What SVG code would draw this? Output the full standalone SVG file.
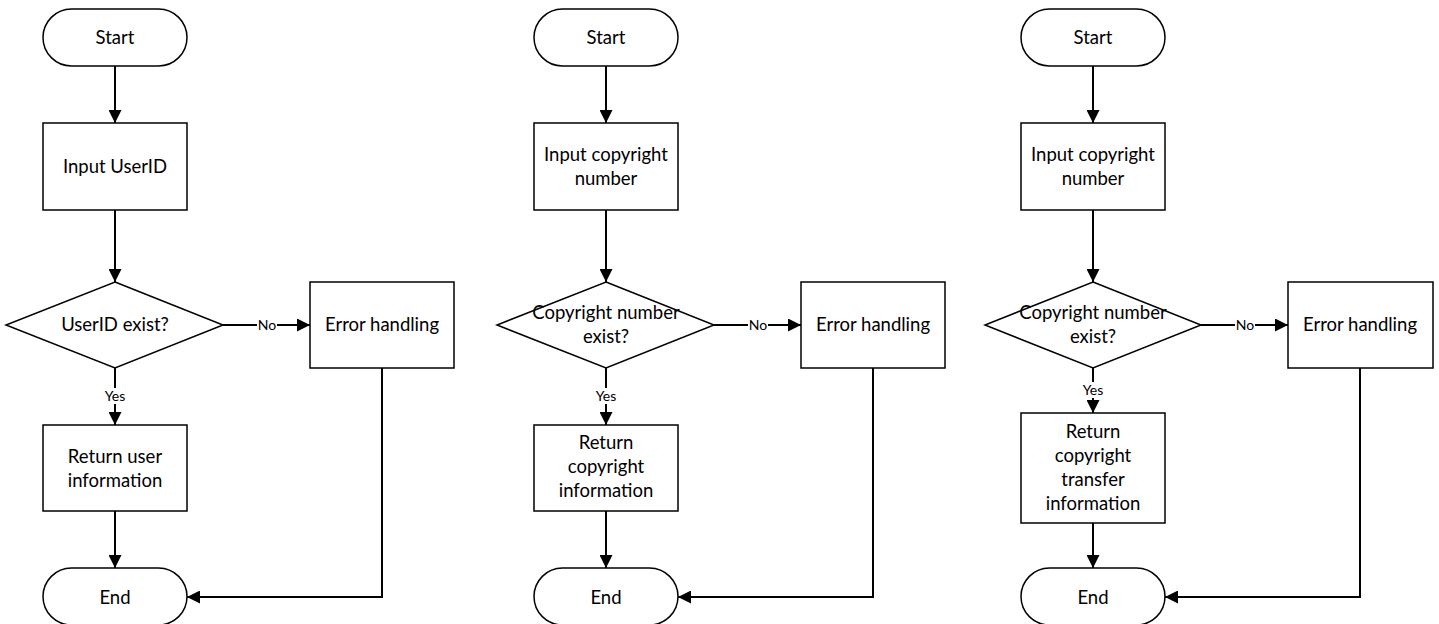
<svg xmlns="http://www.w3.org/2000/svg" width="1439" height="624" viewBox="0 0 1439 624">
  <style>
    .shape { fill: #ffffff; stroke: #000000; stroke-width: 1.5; }
    .conn { fill: none; stroke: #000000; stroke-width: 2; }
    .label { font-family: Lato, "Open Sans", sans-serif; font-size: 18.5px; fill: #000000; text-anchor: middle; }
    .edge-label { font-family: Lato, "Open Sans", sans-serif; font-size: 14px; fill: #000000; text-anchor: middle; }
    .edge-bg { fill: #ffffff; stroke: none; }
  </style>
  <defs>
    <marker id="arrow" markerUnits="userSpaceOnUse" markerWidth="13" markerHeight="13" refX="13" refY="6.5" orient="auto">
      <path d="M0,0 L13,6.5 L0,13 z" fill="#000000"/>
    </marker>
  </defs>

  <!-- ===== Flow 1: user lookup ===== -->
  <g id="f1-start">
    <rect class="shape" x="43" y="9" width="144" height="57" rx="28.5" ry="28.5"/>
    <text class="label" x="115" y="43.5">Start</text>
  </g>
  <g id="f1-input">
    <rect class="shape" x="43" y="123" width="144" height="87"/>
    <text class="label" x="115" y="173">Input UserID</text>
  </g>
  <g id="f1-check">
    <polygon class="shape" points="115,282 223,325 115,368 6,325"/>
    <text class="label" x="115" y="330.5">UserID exist?</text>
  </g>
  <g id="f1-error">
    <rect class="shape" x="310" y="282" width="144" height="86"/>
    <text class="label" x="382" y="330.5">Error handling</text>
  </g>
  <g id="f1-return">
    <rect class="shape" x="43" y="425" width="144" height="86"/>
    <text class="label" x="115" y="463">Return user</text>
    <text class="label" x="115" y="487">information</text>
  </g>
  <g id="f1-end">
    <rect class="shape" x="43" y="568" width="144" height="57" rx="28.5" ry="28.5"/>
    <text class="label" x="115" y="603.5">End</text>
  </g>

  <!-- ===== Flow 2: copyright lookup ===== -->
  <g id="f2-start">
    <rect class="shape" x="534" y="9" width="144" height="57" rx="28.5" ry="28.5"/>
    <text class="label" x="606" y="43.5">Start</text>
  </g>
  <g id="f2-input">
    <rect class="shape" x="534" y="123" width="144" height="87"/>
    <text class="label" x="606" y="161">Input copyright</text>
    <text class="label" x="606" y="185">number</text>
  </g>
  <g id="f2-check">
    <polygon class="shape" points="606,282 714,325 606,368 497,325"/>
    <text class="label" x="606" y="319">Copyright number</text>
    <text class="label" x="606" y="343">exist?</text>
  </g>
  <g id="f2-error">
    <rect class="shape" x="801" y="282" width="144" height="86"/>
    <text class="label" x="873" y="330.5">Error handling</text>
  </g>
  <g id="f2-return">
    <rect class="shape" x="534" y="425" width="144" height="86"/>
    <text class="label" x="606" y="449">Return</text>
    <text class="label" x="606" y="473">copyright</text>
    <text class="label" x="606" y="497">information</text>
  </g>
  <g id="f2-end">
    <rect class="shape" x="534" y="568" width="144" height="57" rx="28.5" ry="28.5"/>
    <text class="label" x="606" y="603.5">End</text>
  </g>

  <!-- ===== Flow 3: copyright transfer lookup ===== -->
  <g id="f3-start">
    <rect class="shape" x="1021" y="9" width="144" height="57" rx="28.5" ry="28.5"/>
    <text class="label" x="1093" y="43.5">Start</text>
  </g>
  <g id="f3-input">
    <rect class="shape" x="1021" y="123" width="144" height="87"/>
    <text class="label" x="1093" y="161">Input copyright</text>
    <text class="label" x="1093" y="185">number</text>
  </g>
  <g id="f3-check">
    <polygon class="shape" points="1093,282 1201,325 1093,368 985,325"/>
    <text class="label" x="1093" y="319">Copyright number</text>
    <text class="label" x="1093" y="343">exist?</text>
  </g>
  <g id="f3-error">
    <rect class="shape" x="1288" y="282" width="145" height="86"/>
    <text class="label" x="1360" y="330.5">Error handling</text>
  </g>
  <g id="f3-return">
    <rect class="shape" x="1021" y="413" width="144" height="110"/>
    <text class="label" x="1093" y="438">Return</text>
    <text class="label" x="1093" y="462">copyright</text>
    <text class="label" x="1093" y="486">transfer</text>
    <text class="label" x="1093" y="510">information</text>
  </g>
  <g id="f3-end">
    <rect class="shape" x="1021" y="568" width="144" height="57" rx="28.5" ry="28.5"/>
    <text class="label" x="1093" y="603.5">End</text>
  </g>

  <!-- ===== Connectors ===== -->
  <g id="connectors">
    <!-- flow 1 -->
    <line class="conn" x1="115" y1="66" x2="115" y2="123" marker-end="url(#arrow)"/>
    <line class="conn" x1="115" y1="210" x2="115" y2="282" marker-end="url(#arrow)"/>
    <line class="conn" x1="223" y1="325" x2="310" y2="325" marker-end="url(#arrow)"/>
    <line class="conn" x1="115" y1="368" x2="115" y2="425" marker-end="url(#arrow)"/>
    <line class="conn" x1="115" y1="511" x2="115" y2="568" marker-end="url(#arrow)"/>
    <polyline class="conn" points="382,368 382,597 187,597" marker-end="url(#arrow)"/>

    <!-- flow 2 -->
    <line class="conn" x1="606" y1="66" x2="606" y2="123" marker-end="url(#arrow)"/>
    <line class="conn" x1="606" y1="210" x2="606" y2="282" marker-end="url(#arrow)"/>
    <line class="conn" x1="714" y1="325" x2="801" y2="325" marker-end="url(#arrow)"/>
    <line class="conn" x1="606" y1="368" x2="606" y2="425" marker-end="url(#arrow)"/>
    <line class="conn" x1="606" y1="511" x2="606" y2="568" marker-end="url(#arrow)"/>
    <polyline class="conn" points="873,368 873,597 678,597" marker-end="url(#arrow)"/>

    <!-- flow 3 -->
    <line class="conn" x1="1093" y1="66" x2="1093" y2="123" marker-end="url(#arrow)"/>
    <line class="conn" x1="1093" y1="210" x2="1093" y2="282" marker-end="url(#arrow)"/>
    <line class="conn" x1="1201" y1="325" x2="1288" y2="325" marker-end="url(#arrow)"/>
    <line class="conn" x1="1093" y1="368" x2="1093" y2="413" marker-end="url(#arrow)"/>
    <line class="conn" x1="1093" y1="523" x2="1093" y2="568" marker-end="url(#arrow)"/>
    <polyline class="conn" points="1360,368 1360,597 1165,597" marker-end="url(#arrow)"/>

    <!-- branch labels -->
    <rect class="edge-bg" x="257" y="317" width="20" height="16"/>
    <text class="edge-label" x="267" y="330">No</text>
    <rect class="edge-bg" x="102" y="388" width="26" height="16"/>
    <text class="edge-label" x="115" y="401">Yes</text>

    <rect class="edge-bg" x="748" y="317" width="20" height="16"/>
    <text class="edge-label" x="758" y="330">No</text>
    <rect class="edge-bg" x="593" y="388" width="26" height="16"/>
    <text class="edge-label" x="606" y="401">Yes</text>

    <rect class="edge-bg" x="1235" y="317" width="20" height="16"/>
    <text class="edge-label" x="1245" y="330">No</text>
    <rect class="edge-bg" x="1080" y="382" width="26" height="16"/>
    <text class="edge-label" x="1093" y="395">Yes</text>
  </g>
</svg>
